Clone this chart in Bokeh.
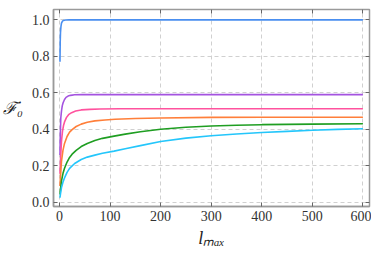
from bokeh.plotting import figure
from bokeh.models import LinearAxis, Range1d, FixedTicker, NumeralTickFormatter
from bokeh.embed import file_html
from bokeh.resources import INLINE

# Data
blue_x = [1, 1.5, 2, 3, 4, 6, 8, 12, 20, 100, 300, 600]
blue_y = [0.77, 0.88, 0.93, 0.965, 0.982, 0.993, 0.997, 0.999, 1.0, 1.0, 1.0, 1.0]

purple_x = [1, 1.5, 2.6, 4, 5.5, 7.2, 10, 13, 17, 22, 30, 45, 100, 300, 600]
purple_y = [0.258, 0.35, 0.46, 0.5, 0.528, 0.545, 0.563, 0.575, 0.582, 0.586, 0.589, 0.59, 0.59, 0.59, 0.59]

pink_x = [1, 2, 4, 6, 8, 10, 14, 18, 24, 32, 43, 60, 80, 120, 300, 600]
pink_y = [0.155, 0.23, 0.335, 0.39, 0.42, 0.44, 0.465, 0.48, 0.491, 0.5, 0.506, 0.509, 0.511, 0.512, 0.512, 0.512]

orange_x = [1, 2, 4, 7, 10, 15, 20, 25, 33, 43, 55, 70, 90, 110, 150, 200, 300, 400, 600]
orange_y = [0.088, 0.14, 0.225, 0.285, 0.322, 0.36, 0.384, 0.398, 0.415, 0.428, 0.438, 0.446, 0.451, 0.455,
            0.459, 0.462, 0.465, 0.466, 0.466]

green_x = [1, 2, 4, 7, 10, 15, 20, 25, 33, 43, 55, 70, 85, 108, 130, 160, 200, 250, 300, 350, 400, 500, 600]
green_y = [0.042, 0.07, 0.117, 0.158, 0.186, 0.22, 0.245, 0.263, 0.284, 0.305, 0.322, 0.338, 0.35, 0.362,
           0.373, 0.386, 0.4, 0.411, 0.418, 0.422, 0.425, 0.428, 0.43]

cyan_x = [1, 2, 4, 7, 10, 15, 20, 30, 43, 55, 70, 85, 108, 130, 160, 200, 250, 300, 350, 400, 450, 500, 550, 600]
cyan_y = [0.024, 0.045, 0.08, 0.11, 0.133, 0.163, 0.185, 0.212, 0.234, 0.247, 0.258, 0.268, 0.28, 0.293,
          0.31, 0.333, 0.351, 0.364, 0.374, 0.382, 0.388, 0.394, 0.399, 0.403]

x_ticks = [0, 100, 200, 300, 400, 500, 600]
y_ticks = [0.0, 0.2, 0.4, 0.6, 0.8, 1.0]

series = [
    (blue_x, blue_y, "#4a8ff0"),
    (purple_x, purple_y, "#a453e0"),
    (pink_x, pink_y, "#ff529e"),
    (orange_x, orange_y, "#ff7f3a"),
    (green_x, green_y, "#1f9e22"),
    (cyan_x, cyan_y, "#24c6fb"),
]

FONT = "Liberation Serif"
GRAY = "#9a9a9a"

p = figure(frame_width=316, frame_height=197, output_backend="svg", toolbar_location=None,
           x_range=Range1d(-11.8, 613), y_range=Range1d(-0.024, 1.057),
           min_border_left=50, min_border_right=2, min_border_top=9, min_border_bottom=44)

for xs, ys, c in series:
    p.line(xs, ys, line_color=c, line_width=1.6)

p.outline_line_color = GRAY
p.outline_line_width = 1.5
p.background_fill_color = "white"

for ax in (p.xaxis[0], p.yaxis[0]):
    ax.axis_line_color = GRAY
    ax.axis_line_width = 1.5
    ax.major_tick_in = 4
    ax.major_tick_out = 0
    ax.major_tick_line_color = "#666666"
    ax.minor_tick_line_color = None
    ax.major_label_text_font = FONT
    ax.major_label_text_font_size = "14px"
    ax.major_label_text_color = "#333333"
    ax.axis_label_text_font = FONT
    ax.axis_label_text_color = "#222222"

p.xaxis[0].ticker = FixedTicker(ticks=x_ticks)
p.yaxis[0].ticker = FixedTicker(ticks=y_ticks)
p.yaxis[0].formatter = NumeralTickFormatter(format="0.0")

p.xaxis[0].axis_label = "lₘₐₓ"
p.xaxis[0].axis_label_text_font_style = "italic"
p.xaxis[0].axis_label_text_font_size = "18px"
p.xaxis[0].axis_label_standoff = 4
p.xaxis[0].major_label_standoff = 4

p.yaxis[0].axis_label = "ℱ̇₀"
p.yaxis[0].axis_label_orientation = "horizontal"
p.yaxis[0].axis_label_text_font_size = "17px"
p.yaxis[0].axis_label_standoff = 6
p.yaxis[0].major_label_standoff = 4

top = LinearAxis(ticker=FixedTicker(ticks=x_ticks), major_label_text_font_size="1px",
                 major_label_text_color=None, major_label_standoff=0,
                 major_tick_in=4, major_tick_out=0, minor_tick_line_color=None,
                 axis_line_color=None, major_tick_line_color="#666666")
right = LinearAxis(ticker=FixedTicker(ticks=y_ticks), major_label_text_font_size="1px",
                   major_label_text_color=None, major_label_standoff=0,
                   major_tick_in=4, major_tick_out=0, minor_tick_line_color=None,
                   axis_line_color=None, major_tick_line_color="#666666")
p.add_layout(top, "above")
p.add_layout(right, "right")

p.xgrid.ticker = FixedTicker(ticks=x_ticks)
p.ygrid.ticker = FixedTicker(ticks=y_ticks)
p.grid.grid_line_color = "#d0d0d0"
p.grid.grid_line_dash = "4 3"
p.grid.grid_line_width = 1

open("out.html", "w").write(file_html(p, INLINE))
